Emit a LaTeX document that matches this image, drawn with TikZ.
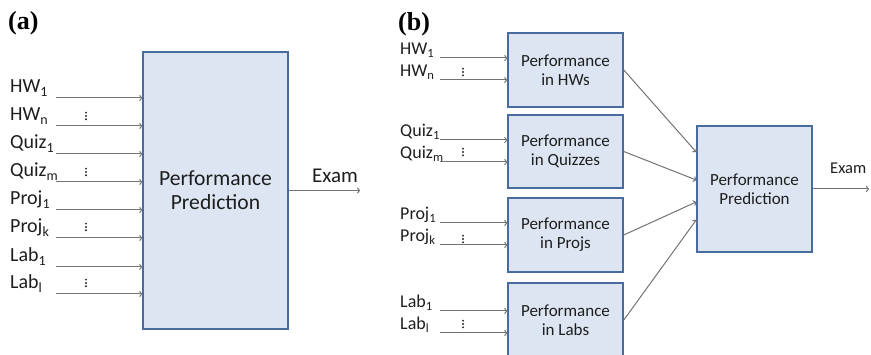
\documentclass[tikz,border=0pt]{standalone}
\usepackage{fontspec}
\setmainfont{Carlito}
\newfontfamily\panelfont{Liberation Serif}
\usetikzlibrary{arrows.meta,calc}
\definecolor{boxfill}{RGB}{220,229,241}
\definecolor{boxdraw}{RGB}{72,108,160}
\definecolor{arr}{RGB}{115,115,115}
\definecolor{dotc}{RGB}{40,40,40}
\definecolor{txt}{RGB}{30,30,30}
\begin{document}
\begin{tikzpicture}[x=1pt,y=-1pt,
  bigbox/.style={draw=boxdraw, fill=boxfill, line width=1.6pt, inner sep=0pt, align=center, text=txt},
  conn/.style={draw=arr, line width=1pt, -{To[length=3pt,width=6pt]}},
  lab/.style={anchor=base west, inner sep=0pt, text=txt},
  paneltag/.style={anchor=base west, inner sep=0pt, font=\panelfont\bfseries\fontsize{26}{26}\selectfont},
  labA/.style={lab, font=\fontsize{20}{20}\selectfont},
  labB/.style={lab, font=\fontsize{18}{18}\selectfont},
  vdotz/.pic={\fill[dotc] (0,-3.3) circle (1.05pt); \fill[dotc] (0,0) circle (1.05pt); \fill[dotc] (0,3.3) circle (1.05pt);}
]
\useasboundingbox (0,0) rectangle (871,355);

% ---------------- panel (a)
\node[paneltag] (tagA) at (8,30) {(a)};
\node[bigbox, minimum width=145pt, minimum height=277pt, font=\fontsize{21.6}{24}\selectfont] (pa) at (215.5,190.5) {Performance\\Prediction};

\foreach \n/\y/\t in {1/98/HW\textsubscript{1}, 2/126/HW\textsubscript{n}, 3/154/Quiz\textsubscript{1}, 4/182/Quiz\textsubscript{m}, 5/210/Proj\textsubscript{1}, 6/238/Proj\textsubscript{k}, 7/267/Lab\textsubscript{1}, 8/294/Lab\textsubscript{l}}{
  \node[labA] (la\n) at (10,\y-5) {\t};
  \coordinate (sa\n) at (56,\y);
  \draw[conn] (sa\n) -- (sa\n -| pa.west);
}
\foreach \y in {116,172,227,283}{ \pic at (86,\y) {vdotz}; }

\coordinate (ea) at (360,190.5);
\draw[conn] (pa.east) -- (ea);
\node[labA, font=\fontsize{21}{21}\selectfont] (exa) at (312,183) {Exam};

% ---------------- panel (b)
\node[paneltag] (tagB) at (398,31) {(b)};
\begin{scope}[every node/.append style={font=\fontsize{17}{19}\selectfont}]
\node[bigbox, minimum width=115pt, minimum height=74pt] (hw) at (565.5,70) {Performance\\in HWs};
\node[bigbox, minimum width=115pt, minimum height=73pt] (qz) at (565.5,151.5) {Performance\\in Quizzes};
\node[bigbox, minimum width=115pt, minimum height=74pt] (pj) at (565.5,235) {Performance\\in Projs};
\node[bigbox, minimum width=115pt, minimum height=74pt] (lb) at (565.5,320) {Performance\\in Labs};
\node[bigbox, minimum width=115pt, minimum height=126pt] (pd) at (754.5,189) {Performance\\Prediction};
\end{scope}

\foreach \n/\y/\t/\b in {1/58/HW\textsubscript{1}/hw, 2/80/HW\textsubscript{n}/hw, 3/140/Quiz\textsubscript{1}/qz, 4/162/Quiz\textsubscript{m}/qz, 5/223/Proj\textsubscript{1}/pj, 6/245/Proj\textsubscript{k}/pj, 7/311/Lab\textsubscript{1}/lb, 8/333/Lab\textsubscript{l}/lb}{
  \node[labB] (lbb\n) at (400,\y-3.5) {\t};
  \coordinate (sb\n) at (440,\y);
  \draw[conn] (sb\n) -- (sb\n -| \b.west);
}
\foreach \y in {72,152,239,324}{ \pic at (463,\y) {vdotz}; }

\draw[conn] (hw.east) -- ([yshift=37pt]pd.west);
\draw[conn] (qz.east) -- ([yshift=9pt]pd.west);
\draw[conn] (pj.east) -- ([yshift=-13pt]pd.west);
\draw[conn] (lb.east) -- ([yshift=-31pt]pd.west);

\coordinate (eb) at (869,189);
\draw[conn] (pd.east) -- (eb);
\node[lab, font=\fontsize{16.5}{16.5}\selectfont] (exb) at (830,174) {Exam};
\end{tikzpicture}
\end{document}
